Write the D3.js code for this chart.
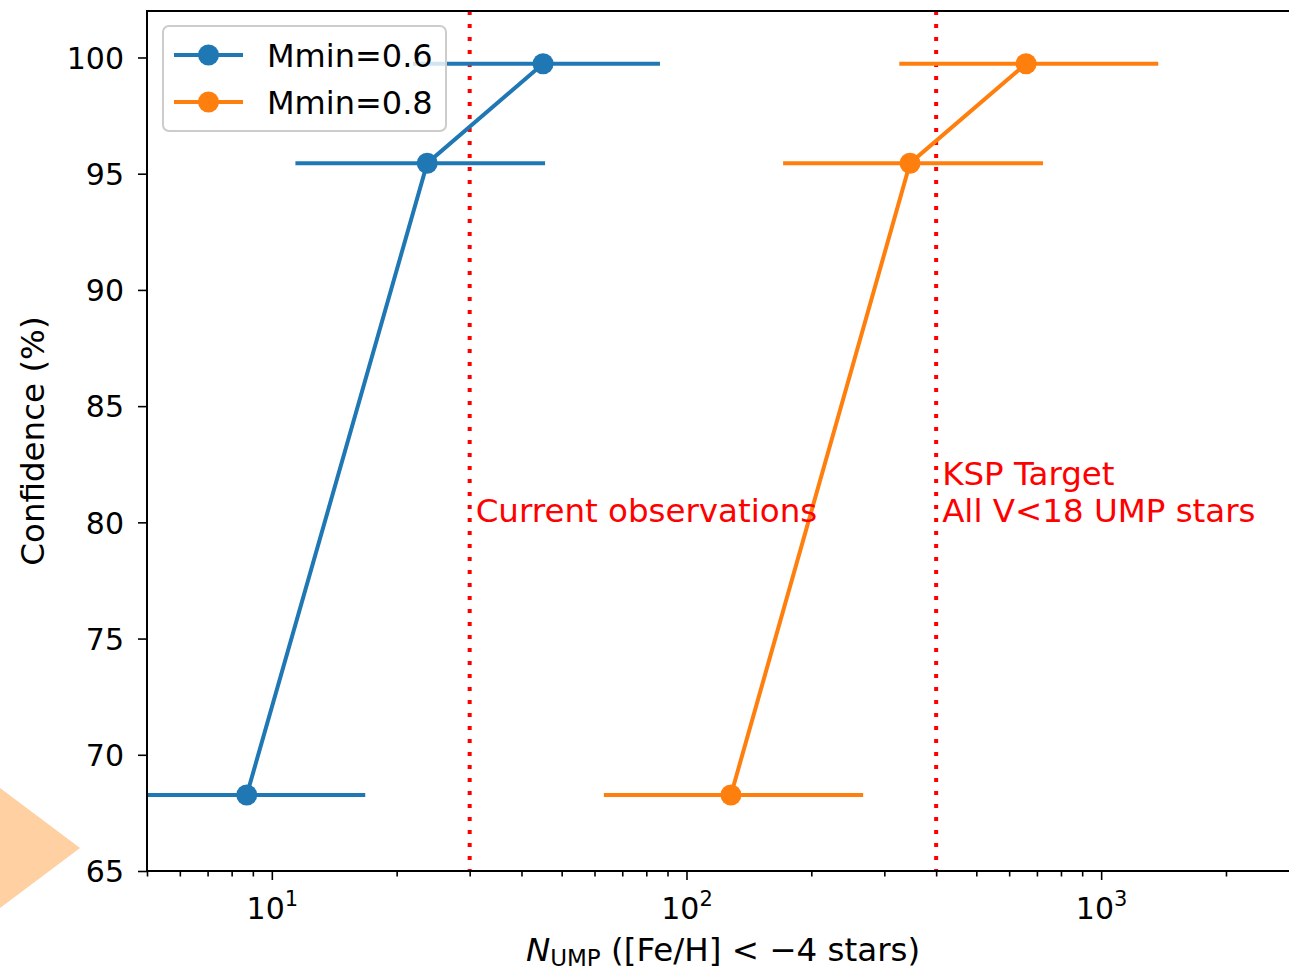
<!DOCTYPE html>
<html>
<head>
<meta charset="utf-8">
<script src="https://cdn.jsdelivr.net/npm/d3@7"></script>
<style>
	body { margin: 0; background: #fff; }
	svg { display: block; font-family: "DejaVu Sans", sans-serif; }
</style>
</head>
<body>
<div id="chart"></div>
<script>
// confidence levels (y) and N_UMP estimates (x) with low/high bounds
let confidence	= [68.27, 95.45, 99.73];
let seriesNames	= ["Mmin=0.6", "Mmin=0.8"];
let seriesColors	= ["#1f77b4", "#ff7f0e"];
let nMid	= [[8.7, 23.7, 45.1], [128, 346, 659]];
let nLow	= [[4.35, 11.4, 21.9], [63.2, 171, 326]];
let nHigh	= [[16.8, 45.6, 86.3], [266.7, 724, 1373]];
let refLines	= [30, 400];
let refLabels	= [["Current observations"], ["KSP Target", "All V<18 UMP stars"]];
let yTicks	= [65, 70, 75, 80, 85, 90, 95, 100];
let xTicks	= [10, 100, 1000];

let width	= 1289, height = 973;
let margin	= {left: 147, top: 11, bottom: 102};
let plotRight	= 1299;
let font	= "DejaVu Sans";

let svg = d3.select("#chart").append("svg")
	.attr("width", width)
	.attr("height", height);

// stray peach triangle at the left edge
svg.append("path")
	.attr("d", "M0,788L80,848L0,908Z")
	.attr("fill", "#fed0a2");

let x = d3.scaleLog().domain([5, 3000]).range([margin.left, plotRight]);
let y = d3.scaleLinear().domain([65, 102]).range([height - margin.bottom, margin.top]);

svg.append("clipPath").attr("id", "clip")
	.append("rect")
	.attr("x", margin.left).attr("y", margin.top)
	.attr("width", plotRight - margin.left)
	.attr("height", y(65) - margin.top);

let plot = svg.append("g").attr("clip-path", "url(#clip)");

// reference lines
refLines.forEach((v, i) => {
	plot.append("line")
		.attr("x1", x(v)).attr("x2", x(v))
		.attr("y1", margin.top).attr("y2", y(65))
		.attr("stroke", "red")
		.attr("stroke-width", 4)
		.attr("stroke-dasharray", "4 9");

	let t = svg.append("text")
		.attr("x", x(v) + 6)
		.attr("y", y(80) - (refLabels[i].length - 1) * 37)
		.attr("fill", "red")
		.attr("font-size", 32.5);
	refLabels[i].forEach((s, k) => {
		t.append("tspan")
			.attr("x", x(v) + 6)
			.attr("dy", k === 0 ? 0 : 37)
			.text(s);
	});
});

// series: error bars, line, markers
seriesNames.forEach((name, s) => {
	let col = seriesColors[s];
	confidence.forEach((c, i) => {
		plot.append("line")
			.attr("x1", x(nLow[s][i])).attr("x2", x(nHigh[s][i]))
			.attr("y1", y(c)).attr("y2", y(c))
			.attr("stroke", col)
			.attr("stroke-width", 4);
	});

	let line = d3.line()
		.x((d, i) => x(nMid[s][i]))
		.y((d) => y(d));

	plot.append("path")
		.attr("d", line(confidence))
		.attr("fill", "none")
		.attr("stroke", col)
		.attr("stroke-width", 4);

	plot.selectAll(".pt" + s)
		.data(confidence)
		.enter().append("circle")
		.attr("cx", (d, i) => x(nMid[s][i]))
		.attr("cy", (d) => y(d))
		.attr("r", 10.5)
		.attr("fill", col);
});

// axes
let yAxis = svg.append("g")
	.attr("transform", "translate(" + margin.left + ",0)")
	.call(d3.axisLeft(y).tickValues(yTicks).tickSize(9).tickPadding(14));

let minor = [];
for (let p = 0; p <= 3; p++) {
	for (let m = 2; m <= 9; m++) {
		let v = m * Math.pow(10, p);
		if (v >= 5 && v <= 3000) minor.push(v);
	}
}

let xAxisMinor = svg.append("g")
	.attr("transform", "translate(0," + y(65) + ")")
	.call(d3.axisBottom(x).tickValues(minor).tickSize(5.5).tickFormat(""));

let xAxis = svg.append("g")
	.attr("transform", "translate(0," + y(65) + ")")
	.call(d3.axisBottom(x).tickValues(xTicks).tickSize(9).tickFormat(""));

xAxis.selectAll(".tick").append("text")
	.attr("y", 48)
	.attr("font-size", 30)
	.attr("text-anchor", "middle")
	.each(function(d) {
		let t = d3.select(this);
		t.append("tspan").text("10");
		t.append("tspan")
			.attr("dy", -13)
			.attr("font-size", 21)
			.text(Math.round(Math.log10(d)));
	});

[yAxis, xAxis, xAxisMinor].forEach((g) => {
	g.attr("font-family", font);
	g.select(".domain").remove();
	g.selectAll(".tick line").attr("stroke", "#000").attr("stroke-width", 1.6);
	g.selectAll(".tick text").attr("fill", "#000");
});
yAxis.selectAll(".tick text").attr("font-size", 30).attr("dy", "0.36em");

// spines (right spine lies past the canvas)
svg.append("rect")
	.attr("x", margin.left).attr("y", margin.top)
	.attr("width", plotRight - margin.left)
	.attr("height", y(65) - margin.top)
	.attr("fill", "none")
	.attr("stroke", "#000")
	.attr("stroke-width", 2);

// axis labels
svg.append("text")
	.attr("transform", "translate(44," + ((margin.top + y(65)) / 2) + ") rotate(-90)")
	.attr("text-anchor", "middle")
	.attr("font-size", 32.5)
	.text("Confidence (%)");

let xl = svg.append("text")
	.attr("x", (margin.left + plotRight) / 2)
	.attr("y", 961)
	.attr("text-anchor", "middle")
	.attr("font-size", 32.5);
xl.append("tspan").attr("font-style", "italic").text("N");
xl.append("tspan").attr("font-size", 23).attr("dy", 5).text("UMP");
xl.append("tspan").attr("dy", -5).text(" ([Fe/H] < \u22124 stars)");

// legend
let leg = svg.append("g").attr("transform", "translate(163,26)");
leg.append("rect")
	.attr("width", 283).attr("height", 105)
	.attr("rx", 6)
	.attr("fill", "#fff").attr("fill-opacity", 0.8)
	.attr("stroke", "#ccc").attr("stroke-width", 2);

seriesNames.forEach((name, s) => {
	let row = leg.append("g").attr("transform", "translate(0," + (29 + s * 47) + ")");
	row.append("line")
		.attr("x1", 11).attr("x2", 80)
		.attr("stroke", seriesColors[s]).attr("stroke-width", 4);
	row.append("circle")
		.attr("cx", 45.5).attr("r", 10.5)
		.attr("fill", seriesColors[s]);
	row.append("text")
		.attr("x", 104).attr("dy", "0.36em")
		.attr("font-size", 32)
		.text(name);
});
</script>
</body>
</html>
